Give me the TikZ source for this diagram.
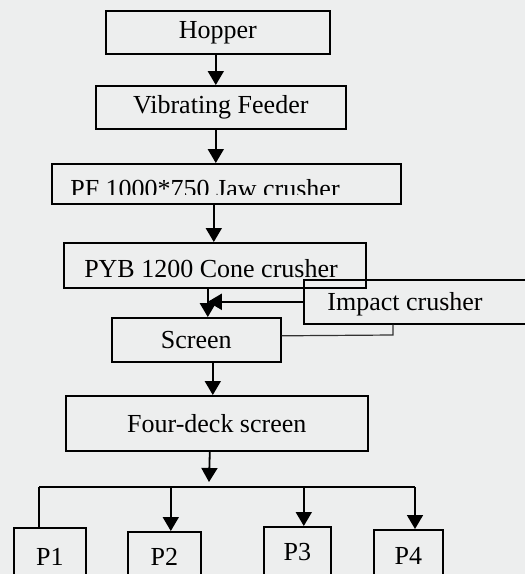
\documentclass[tikz,border=0pt]{standalone}
\usepackage{fontspec}
\setmainfont{Liberation Serif}
\usetikzlibrary{arrows.meta}
\definecolor{bgc}{RGB}{237,238,238}
\definecolor{fbc}{RGB}{50,50,50}
\begin{document}
\begin{tikzpicture}[x=1pt,y=-1pt,
  box/.style={draw=black, line width=1.6pt, inner sep=0pt, anchor=north west,
    font=\fontsize{26}{30}\selectfont},
  lbl/.style={inner sep=0pt, font=\fontsize{26}{30}\selectfont},
  arr/.style={line width=1.8pt, -{Triangle[width=16pt,length=14pt]}},
  ln/.style={line width=1.8pt}]
\useasboundingbox (0,0) rectangle (525,574);
\fill[bgc] (0,0) rectangle (525,574);
\clip (0,0) rectangle (525,574);

\node[box, minimum width=224pt, minimum height=43pt] (hopper) at (105,10) {Hopper};
\node[box, minimum width=250pt, minimum height=43pt] (vib) at (95,85) {Vibrating Feeder};
\node[box, minimum width=349pt, minimum height=40pt] (jaw) at (51,163) {};
\begin{scope}
  \clip (51,163) rectangle (400,194);
  \node[lbl, anchor=base] (jawtext) at (205,197) {PF 1000*750 Jaw crusher};
\end{scope}
\node[box, minimum width=302pt, minimum height=45pt] (cone) at (63,242) {};
\node[lbl, anchor=base] (conetext) at (211,277) {PYB 1200 Cone crusher};
\node[box, minimum width=232pt, minimum height=44pt] (impact) at (303,279) {};
\node[lbl, anchor=base] (impacttext) at (405,310) {Impact crusher};
\node[box, minimum width=169pt, minimum height=44pt] (screen) at (111,317) {Screen};
\node[box, minimum width=302pt, minimum height=55pt] (four) at (65,395) {Four-deck screen};
\node[box, minimum width=72pt, minimum height=58pt] (p1) at (13,527) {P1};
\node[box, minimum width=73pt, minimum height=50pt] (p2) at (127,531) {P2};
\node[box, minimum width=67pt, minimum height=50pt] (p3) at (263,526) {P3};
\node[box, minimum width=69pt, minimum height=52pt] (p4) at (373,529) {P4};

% main line
\draw[arr] ([xshift=-2pt]hopper.south) -- ([xshift=-2pt]hopper.south |- vib.north);
\draw[arr] ([xshift=-5pt]vib.south) -- ([xshift=-5pt]vib.south |- jaw.north);
\draw[arr] ([xshift=-12.5pt]jaw.south) -- ([xshift=-12.5pt]jaw.south |- cone.north);
\coordinate (jn) at ([xshift=-7pt]cone.south);
\draw[arr] (jn) -- (jn |- screen.north);
\draw[arr] (impact.west) -- (impact.west -| jn);
\coordinate (fb) at (393,335);
\draw[line width=1.2pt, fbc] ([yshift=4pt]screen.east) -- (fb) -- (fb |- impact.south);
\draw[arr] ([xshift=16.5pt]screen.south) -- ([xshift=16.5pt]screen.south |- four.north);

% distribution
\coordinate (bus) at (209,487);
\coordinate (busL) at (39,487);
\coordinate (busR) at (415,487);
\draw[arr] ([xshift=-7pt]four.south) -- ([yshift=5pt]bus);
\draw[ln] (busL) -- (busR);
\draw[ln] (busL) -- (busL |- p1.north);
\draw[arr] ([xshift=6.5pt]p2.north |- bus) -- ([xshift=6.5pt]p2.north);
\draw[arr] ([xshift=6.5pt]p3.north |- bus) -- ([xshift=6.5pt]p3.north);
\draw[arr] (busR) -- (busR |- p4.north);
\end{tikzpicture}
\end{document}
